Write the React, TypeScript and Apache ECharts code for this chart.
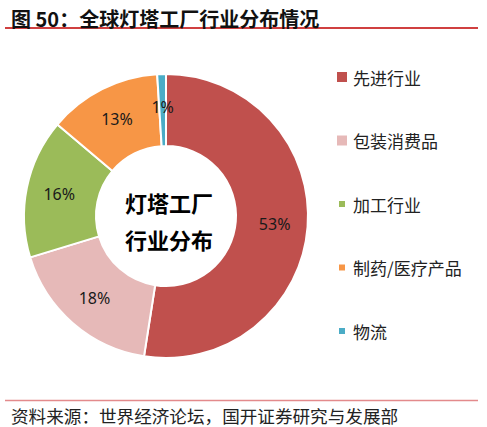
import React, { useRef, useEffect } from 'react';
import * as echarts from 'echarts';

// 全球灯塔工厂行业分布（%）
const categories = ['先进行业', '包装消费品', '加工行业', '制药/医疗产品', '物流'];
const shares = [53, 18, 16, 13, 1];
const colors = ['#C0504D', '#E6B9B8', '#9BBB59', '#F79646', '#4BACC6'];

const titleText = '图 50：全球灯塔工厂行业分布情况';
const sourceText = '资料来源：世界经济论坛，国开证券研究与发展部';
const centerText = '灯塔工厂\n行业分布';

const cjk = '"Noto Sans CJK SC", "Noto Sans", sans-serif';

// small square marker inside a 12x12 box (the M points keep the box size)
const smallSquare = 'path://M0,0M12,12M2,2h8v8h-8z';

export default function App() {
  const chartRef = useRef<HTMLDivElement>(null);

  useEffect(() => {
    document.body.style.margin = '0';
    if (!chartRef.current) return;
    const chart = echarts.init(chartRef.current, undefined, { renderer: 'svg' });

    const option: echarts.EChartsOption = {
      animation: false,
      backgroundColor: '#fff',
      title: [
        {
          text: titleText,
          left: 6,
          top: 3,
          textStyle: { fontFamily: cjk, fontSize: 20, fontWeight: 'bold', color: '#111' },
        },
        {
          text: sourceText,
          left: 6,
          top: 402,
          textStyle: { fontFamily: cjk, fontSize: 17.6, fontWeight: 'normal', color: '#222' },
        },
      ],
      legend: {
        orient: 'vertical',
        left: 330,
        top: 62,
        itemWidth: 12,
        itemHeight: 12,
        itemGap: 43.5,
        icon: 'rect',
        textStyle: { fontFamily: cjk, fontSize: 17, color: '#222', lineHeight: 20 },
        data: categories.map((name, i) => (i < 2 ? { name } : { name, icon: smallSquare })),
      },
      graphic: [
        {
          type: 'line',
          shape: { x1: 5, y1: 28, x2: 478, y2: 28 },
          style: { stroke: '#C00000', lineWidth: 1.5 },
        },
        {
          type: 'line',
          shape: { x1: 5, y1: 400.5, x2: 478, y2: 400.5 },
          style: { stroke: '#E38A8C', lineWidth: 1.5 },
        },
        {
          type: 'text',
          x: 169,
          y: 220,
          style: {
            text: centerText,
            fontFamily: cjk,
            fontSize: 22,
            fontWeight: 'bold',
            fill: '#000',
            align: 'center',
            verticalAlign: 'middle',
            lineHeight: 37,
          },
        },
      ],
      series: [
        {
          type: 'pie',
          center: [166, 216],
          radius: [70, 142],
          startAngle: 90,
          clockwise: true,
          avoidLabelOverlap: false,
          itemStyle: { borderColor: '#fff', borderWidth: 2 },
          label: {
            show: true,
            position: 'inside',
            formatter: '{c}%',
            fontFamily: '"Noto Sans", sans-serif',
            fontSize: 16,
            color: '#1a1a1a',
          },
          labelLine: { show: false },
          emphasis: { disabled: true },
          data: categories.map((name, i) => ({
            name,
            value: shares[i],
            itemStyle: { color: colors[i] },
          })),
        },
      ],
    };

    chart.setOption(option);
    return () => chart.dispose();
  }, []);

  return <div ref={chartRef} style={{ width: 487, height: 427 }} />;
}
